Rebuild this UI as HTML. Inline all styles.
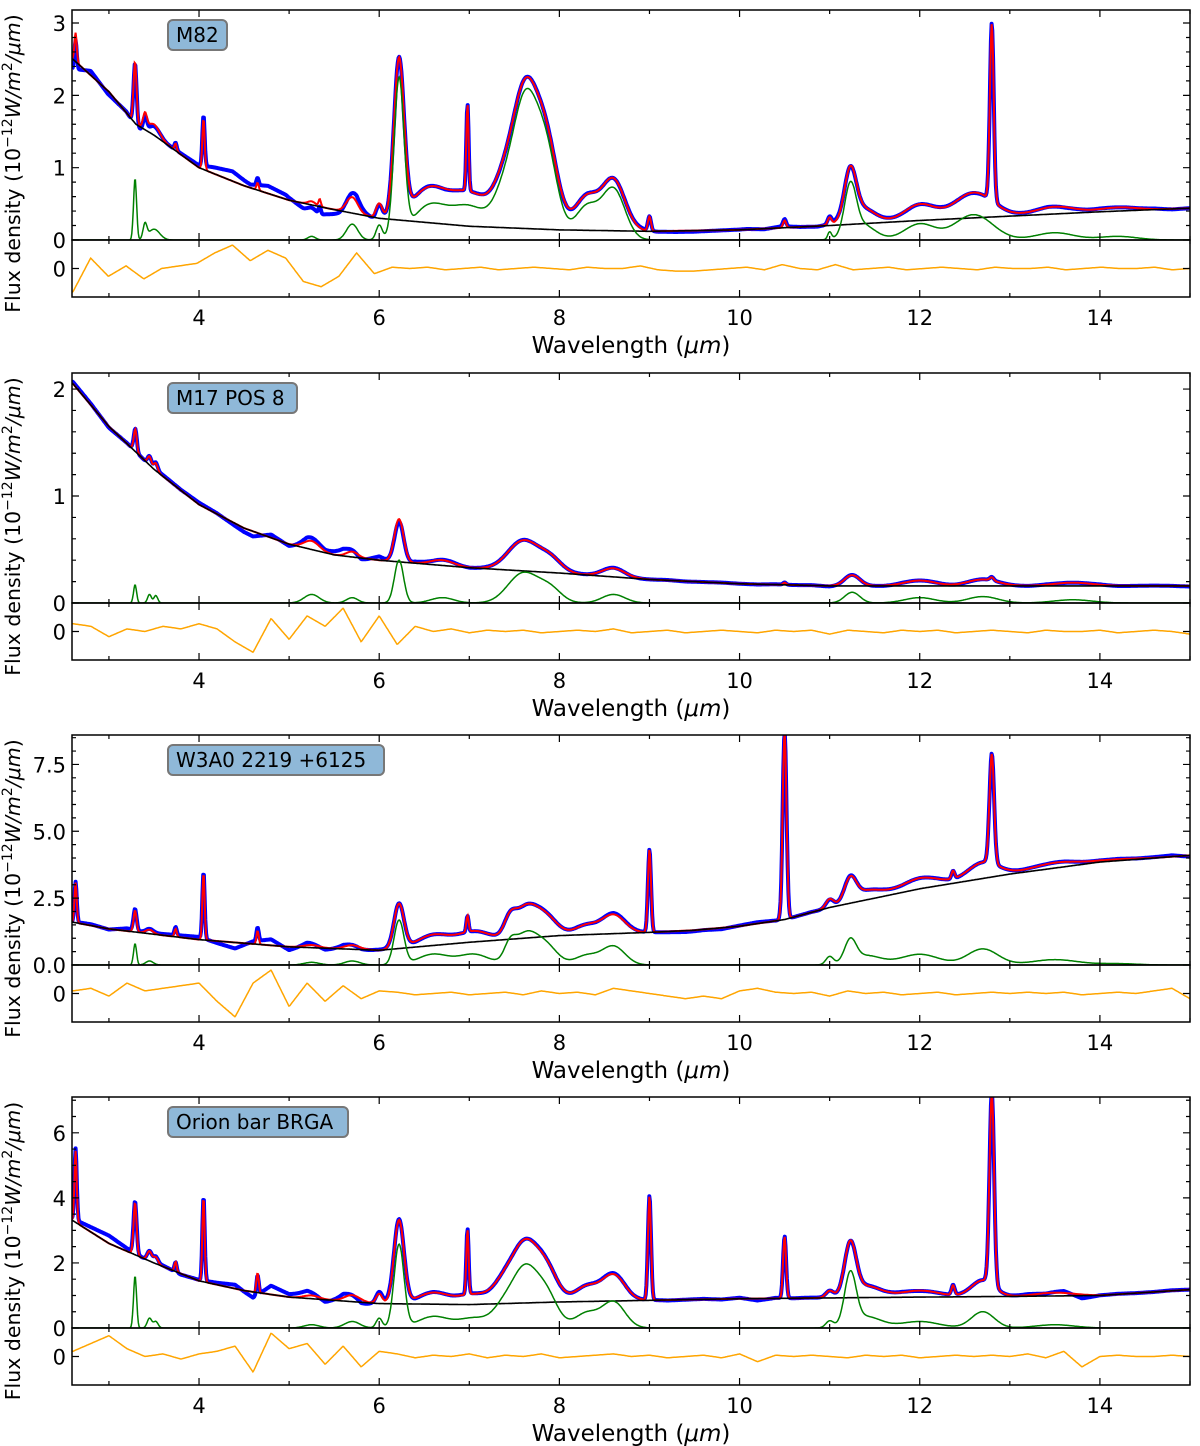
<!DOCTYPE html>
<html><head><meta charset="utf-8"><style>
html,body{margin:0;padding:0;background:#fff;}
svg{display:block;font-family:"DejaVu Sans","Liberation Sans",sans-serif;}
</style></head><body>
<svg id="fig" width="1200" height="1446" viewBox="0 0 1200 1446" xmlns="http://www.w3.org/2000/svg"></svg>
<script>
// ---- data (wavelength in micron, flux in 1e-12 W/m2/um) ----
const m82Cont=[[2.6,2.5],[3.0,2.05],[3.3,1.6],[3.5,1.45],[4.0,1.0],[4.5,0.75],[5.0,0.55],[5.5,0.42],[6.0,0.3],[7.0,0.19],[8.0,0.14],[9.0,0.12],[10.0,0.14],[11.0,0.2],[12.0,0.27],[13.0,0.33],[14.0,0.39],[15.0,0.44]];
const m82Pah=[[3.29,0.85,0.04],[3.4,0.2,0.05],[3.5,0.15,0.15],[5.25,0.05,0.1],[5.7,0.22,0.15],[6.0,0.2,0.08],[6.22,2.15,0.13],[6.55,0.45,0.45],[7.0,0.45,0.5],[7.4,0.6,0.3],[7.62,1.7,0.3],[7.85,1.2,0.3],[8.3,0.45,0.3],[8.6,0.7,0.3],[11.0,0.1,0.05],[11.23,0.65,0.15],[11.35,0.22,0.35],[12.0,0.22,0.4],[12.6,0.35,0.5],[13.5,0.1,0.5],[14.2,0.05,0.5]];
const m82Lines=[[2.63,0.4,0.03],[3.74,0.1,0.03],[4.05,0.7,0.03],[4.65,0.1,0.03],[5.34,0.1,0.03],[6.98,1.2,0.03],[9.0,0.2,0.04],[10.5,0.1,0.04],[12.8,2.45,0.05]];
const m82Resid=[-0.9,0.4,-0.3,0.1,-0.4,0,0.1,0.2,0.6,0.9,0.3,0.7,0.4,-0.5,-0.7,-0.3,0.6,-0.2,0.05,0,0.05,-0.05,0,0.05,-0.05,0,0.05,0,-0.05,0.05,0,0,0.1,-0.05,-0.1,-0.1,-0.05,0,0.05,-0.05,0.15,0,-0.05,0.15,-0.05,0,0.05,-0.05,0,0.05,0,-0.05,0.05,0,0,0.05,-0.05,0,0.05,0,0,0.05,-0.05,0];
const m17Cont=[[2.6,2.05],[3.0,1.65],[3.5,1.25],[4.0,0.92],[4.5,0.7],[5.0,0.55],[5.5,0.45],[6.0,0.4],[7.0,0.33],[8.0,0.28],[9.0,0.22],[10.0,0.18],[11.0,0.16],[12.0,0.16],[13.0,0.16],[14.0,0.16],[15.0,0.16]];
const m17Pah=[[3.29,0.17,0.04],[3.45,0.08,0.05],[3.52,0.07,0.05],[5.25,0.08,0.2],[5.7,0.05,0.15],[6.22,0.4,0.12],[6.7,0.05,0.3],[7.6,0.28,0.4],[7.9,0.12,0.3],[8.6,0.08,0.3],[11.25,0.1,0.2],[12.0,0.05,0.4],[12.7,0.06,0.4],[13.7,0.03,0.5]];
const m17Lines=[[3.3,0.05,0.03],[10.5,0.02,0.04],[12.8,0.03,0.05]];
const m17Resid=[0.3,0.2,-0.2,0.1,0,0.2,0.1,0.3,0.1,-0.4,-0.8,0.5,-0.3,0.6,0.2,0.9,-0.4,0.6,-0.5,0.2,0,0.1,-0.05,0.05,0,0.05,-0.05,0,0.05,0,0.1,-0.05,0,0.05,-0.05,0,0.05,0,-0.05,0.05,0,0.05,-0.1,0.05,0,-0.05,0.05,0,0.05,-0.05,0,0.05,0,-0.05,0.05,0,0,0.05,-0.05,0,0.05,0,-0.1];
const w3Cont=[[2.6,1.6],[3.0,1.35],[4.0,0.95],[5.0,0.68],[6.0,0.55],[7.0,0.85],[8.0,1.1],[9.0,1.22],[9.5,1.3],[10.0,1.45],[10.5,1.7],[11.0,2.15],[12.0,2.85],[13.0,3.4],[14.0,3.85],[15.0,4.1]];
const w3Pah=[[3.29,0.8,0.04],[3.45,0.15,0.1],[5.25,0.1,0.2],[5.7,0.15,0.2],[6.22,1.65,0.13],[6.6,0.4,0.4],[7.05,0.4,0.4],[7.45,0.55,0.15],[7.62,1.1,0.3],[7.85,0.7,0.3],[8.3,0.35,0.3],[8.6,0.7,0.3],[11.0,0.3,0.1],[11.23,0.8,0.15],[11.4,0.35,0.4],[12.0,0.4,0.5],[12.7,0.6,0.4],[13.5,0.2,0.6],[14.2,0.05,0.5]];
const w3Lines=[[2.63,1.5,0.03],[3.74,0.3,0.03],[4.05,2.5,0.03],[4.65,0.5,0.03],[6.98,0.6,0.03],[9.0,3.1,0.04],[10.5,7.0,0.05],[12.37,0.3,0.04],[12.8,4.1,0.06]];
const w3Resid=[0.1,0.2,-0.1,0.4,0.1,0.2,0.3,0.4,-0.3,-0.9,0.4,0.9,-0.5,0.4,-0.3,0.3,-0.2,0.1,0.05,-0.05,0,0.05,-0.05,0,0.05,-0.05,0.1,0,0.05,-0.05,0.2,0.1,0,-0.1,-0.2,-0.1,-0.2,0.1,0.2,0.05,0,0.05,-0.1,0.1,0,0.05,-0.05,0,0.05,-0.05,0,0.05,0,0.05,0,0.05,-0.05,0,0.05,0,0.1,0.2,-0.2];
const oriCont=[[2.6,3.3],[3.0,2.6],[3.5,2.0],[4.0,1.45],[4.5,1.15],[5.0,0.95],[5.5,0.85],[6.0,0.75],[7.0,0.72],[8.0,0.8],[9.0,0.85],[10.0,0.9],[12.0,0.95],[13.0,0.97],[14.0,1.0],[15.0,1.18]];
const oriPah=[[3.29,1.6,0.04],[3.45,0.3,0.06],[3.52,0.2,0.06],[5.25,0.1,0.2],[5.7,0.2,0.2],[6.0,0.3,0.08],[6.22,2.55,0.13],[6.6,0.35,0.4],[7.05,0.3,0.4],[7.4,0.7,0.3],[7.62,1.6,0.3],[7.85,1.05,0.3],[8.3,0.45,0.3],[8.6,0.8,0.3],[11.0,0.2,0.1],[11.23,1.55,0.15],[11.4,0.35,0.4],[12.0,0.2,0.5],[12.7,0.5,0.3],[13.5,0.1,0.5]];
const oriLines=[[2.63,2.2,0.03],[3.74,0.3,0.03],[4.05,2.6,0.03],[4.65,0.6,0.03],[6.98,2.0,0.03],[9.0,3.2,0.04],[10.5,1.9,0.04],[12.37,0.3,0.04],[12.8,5.9,0.06]];
const oriResid=[0.2,0.5,0.8,0.3,0,0.1,-0.1,0.1,0.2,0.4,-0.6,0.9,0.3,0.5,-0.3,0.4,-0.4,0.2,0.1,-0.05,0.05,0,0.1,-0.05,0.05,0,0.1,-0.05,0,0.05,0.1,0,0.05,-0.05,0,0.05,-0.05,0.1,-0.2,0.05,0,0.05,0,-0.05,0.05,0,0.05,-0.05,0,0.05,0,0.05,0,0.1,-0.05,0.2,-0.4,0,0.05,0,0,0.05,0];
const xTicks=[4,6,8,10,12,14];

const panels=[
 {name:'m82',label:'M82',boxW:59,top:10,mid:240,bot:297,ymax:3.18,major:[0,1,2,3],majorLab:['0','1','2','3'],minor:0.2,cont:m82Cont,pah:m82Pah,lines:m82Lines,resid:m82Resid,rs:0.15},
 {name:'m17',label:'M17 POS 8',boxW:129,top:373,mid:603,bot:660,ymax:2.15,major:[0,1,2],majorLab:['0','1','2'],minor:0.2,cont:m17Cont,pah:m17Pah,lines:m17Lines,resid:m17Resid,rs:0.06},
 {name:'w3a0',label:'W3A0 2219 +6125',boxW:216,top:735,mid:965,bot:1022,ymax:8.6,major:[0,2.5,5,7.5],majorLab:['0.0','2.5','5.0','7.5'],minor:0.5,cont:w3Cont,pah:w3Pah,lines:w3Lines,resid:w3Resid,rs:0.25},
 {name:'orion',label:'Orion bar BRGA',boxW:180,top:1097,mid:1328,bot:1385,ymax:7.1,major:[0,2,4,6],majorLab:['0','2','4','6'],minor:0.5,cont:oriCont,pah:oriPah,lines:oriLines,resid:oriResid,rs:0.3}
];
const X0=72,X1=1190,WMIN=2.59,WMAX=15;
const NS='http://www.w3.org/2000/svg';
const svg=document.getElementById('fig');
function xs(w){return X0+(w-WMIN)/(WMAX-WMIN)*(X1-X0);}
function mk(tag,attrs,parent){const e=document.createElementNS(NS,tag);for(const k in attrs)e.setAttribute(k,attrs[k]);(parent||svg).appendChild(e);return e;}
function interp(arr,w){if(w<=arr[0][0])return arr[0][1];for(let i=1;i<arr.length;i++){if(w<=arr[i][0]){const a=arr[i-1],b=arr[i];const t=(w-a[0])/(b[0]-a[0]);return a[1]+t*(b[1]-a[1]);}}return arr[arr.length-1][1];}
function gsum(arr,w){let s=0;for(const f of arr){const d=(w-f[0])/f[2];s+=f[1]*Math.exp(-2.7726*d*d);}return s;}
function residAt(r,w){const step=(15-2.6)/(r.length-1);const p=(w-2.6)/step;const i=Math.max(0,Math.min(r.length-2,Math.floor(p)));const t=Math.max(0,Math.min(1,p-i));return r[i]+t*(r[i+1]-r[i]);}

const grid=[];for(let w=WMIN;w<=WMAX+1e-9;w+=0.008)grid.push(w);

panels.forEach((P,pi)=>{
 const g=mk('g',{});
 
 
 const ys=v=>P.mid-v/P.ymax*(P.mid-P.top);
 const rmid=(P.mid+P.bot)/2;const ry=v=>rmid-v*26;
 const cid='clip'+pi;
 const cp=mk('clipPath',{id:cid},g);mk('rect',{x:X0,y:P.top,width:X1-X0,height:P.mid-P.top},cp);
 const cid2='clipr'+pi;
 const cp2=mk('clipPath',{id:cid2},g);mk('rect',{x:X0,y:P.mid,width:X1-X0,height:P.bot-P.mid},cp2);
 let dObs='',dMod='',dCont='',dPah='',dRes='';
 grid.forEach((w,i)=>{
  const c=interp(P.cont,w),pa=gsum(P.pah,w),li=gsum(P.lines,w);
  const mod=c+pa+li;const r=residAt(P.resid,w);
  const X=xs(w).toFixed(1);const cmd=i?'L':'M';
  dObs+=cmd+X+','+ys(mod+r*P.rs).toFixed(1);
  dMod+=cmd+X+','+ys(mod).toFixed(1);
  dCont+=cmd+X+','+ys(c).toFixed(1);
  dPah+=cmd+X+','+ys(pa).toFixed(1);
  dRes+=cmd+X+','+ry(r).toFixed(1);
 });
 const gm=mk('g',{'clip-path':'url(#'+cid+')'},g);
 let e;
 e=mk('path',{d:dObs,fill:'none',stroke:'#0000ff','stroke-width':4,'stroke-linejoin':'round'},gm);
 
 
 e=mk('path',{d:dMod,fill:'none',stroke:'#ff0000','stroke-width':2},gm);
 
 
 e=mk('path',{d:dCont,fill:'none',stroke:'#000','stroke-width':1.6},gm);
 
 
 e=mk('path',{d:dPah,fill:'none',stroke:'#008000','stroke-width':1.5},gm);
 
 
 const gr=mk('g',{'clip-path':'url(#'+cid2+')'},g);
 e=mk('path',{d:dRes,fill:'none',stroke:'#ffa500','stroke-width':1.5},gr);
 
 
 e=mk('rect',{x:X0,y:P.top,width:X1-X0,height:P.mid-P.top,fill:'none',stroke:'#000','stroke-width':1.5},g);
 
 
 e=mk('rect',{x:X0,y:P.mid,width:X1-X0,height:P.bot-P.mid,fill:'none',stroke:'#000','stroke-width':1.5},g);
 
 
 let tk='';
 for(let w=3;w<=15;w++){const X=xs(w);const L=(w%2===0)?7:4;
  [P.top,P.mid,P.bot].forEach(yb=>{
   if(yb!==P.top)tk+='M'+X+','+yb+'v'+(-L);
   if(yb!==P.bot)tk+='M'+X+','+yb+'v'+L;});}
 for(let v=0;v<=P.ymax+1e-9;v+=P.minor){const Y=ys(v);const isMaj=P.major.some(m=>Math.abs(m-v)<1e-6);const L=isMaj?7:4;tk+='M'+X0+','+Y+'h'+L+'M'+X1+','+Y+'h'+(-L);}
 tk+='M'+X0+','+rmid+'h7M'+X1+','+rmid+'h-7';
 mk('path',{d:tk,stroke:'#000','stroke-width':1.2,fill:'none'},g);
 xTicks.forEach(w=>{e=mk('text',{x:xs(w),y:P.bot+28,'text-anchor':'middle','font-size':21},g);e.textContent=String(w);
  
  });
 P.major.forEach((v,i)=>{e=mk('text',{x:X0-6,y:ys(v)+8,'text-anchor':'end','font-size':21},g);e.textContent=P.majorLab[i];
  
  });
 e=mk('text',{x:X0-6,y:rmid+8,'text-anchor':'end','font-size':21},g);e.textContent='0';
 
 
 const xl=mk('text',{x:(X0+X1)/2,y:P.bot+56,'text-anchor':'middle','font-size':23},g);
 
 
 xl.innerHTML='Wavelength (<tspan font-style="italic">μm</tspan>)';
 const cy=(P.top+P.bot)/2+10;
 const yl=mk('text',{x:0,y:0,'text-anchor':'middle','font-size':20.5,transform:'translate(20,'+cy+') rotate(-90)'},g);
 
 
 yl.innerHTML='Flux density (10<tspan dy="-8" font-size="14">−12</tspan><tspan dy="8" font-style="italic">W</tspan><tspan font-style="italic">/m</tspan><tspan dy="-8" font-size="14">2</tspan><tspan dy="8" font-style="italic">/μm</tspan>)';
 const bx=mk('rect',{x:168,y:P.top+10,width:P.boxW,height:30,rx:5,fill:'#8fb8d8',stroke:'#777','stroke-width':2},g);
 
 
 const bt=mk('text',{x:176,y:P.top+32,'font-size':20},g);bt.textContent=P.label;
 
 
});
</script>
</body></html>
